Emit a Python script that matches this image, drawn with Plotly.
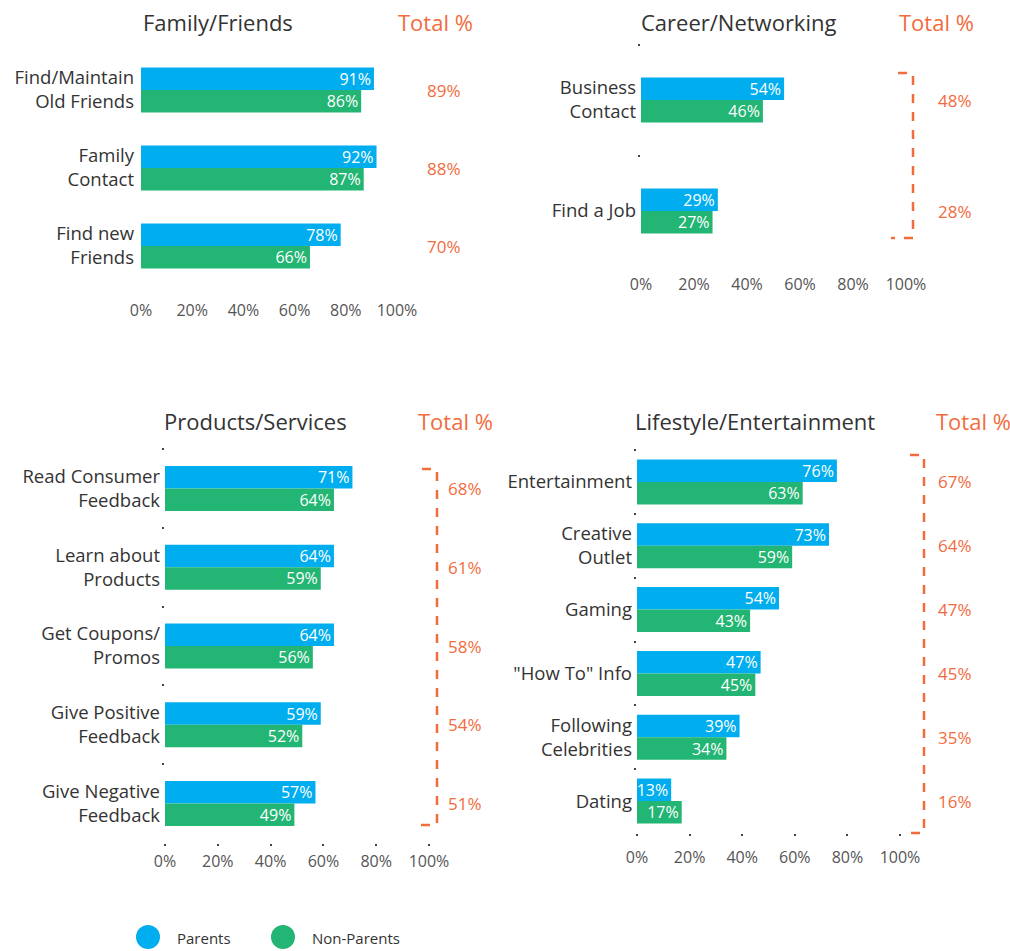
import plotly.graph_objects as go

W, H = 1010, 951
FONT = "Open Sans"
BLUE = "#00ADEE"
GREEN = "#22B573"
ORANGE = "#F26B3D"
DARK = "#333333"
GREY = "#555555"

series_names = ["Parents", "Non-Parents"]
series_colors = [BLUE, GREEN]
x_tick_vals = [0, 20, 40, 60, 80, 100]
x_tick_text = ["0%", "20%", "40%", "60%", "80%", "100%"]

# Family/Friends
fam_title = "Family/Friends"
fam_categories = ["Find/Maintain<br>Old Friends", "Family<br>Contact", "Find new<br>Friends"]
fam_parents = [91, 92, 78]
fam_nonparents = [86, 87, 66]
fam_total = [89, 88, 70]

# Career/Networking
car_title = "Career/Networking"
car_categories = ["Business<br>Contact", "Find a Job"]
car_parents = [54, 29]
car_nonparents = [46, 27]
car_total = [48, 28]

# Products/Services
prod_title = "Products/Services"
prod_categories = ["Read Consumer<br>Feedback", "Learn about<br>Products", "Get Coupons/<br>Promos",
                   "Give Positive<br>Feedback", "Give Negative<br>Feedback"]
prod_parents = [71, 64, 64, 59, 57]
prod_nonparents = [64, 59, 56, 52, 49]
prod_total = [68, 61, 58, 54, 51]

# Lifestyle/Entertainment
life_title = "Lifestyle/Entertainment"
life_categories = ["Entertainment", "Creative<br>Outlet", "Gaming", "\"How To\" Info",
                   "Following<br>Celebrities", "Dating"]
life_parents = [76, 73, 54, 47, 39, 13]
life_nonparents = [63, 59, 43, 45, 34, 17]
life_total = [67, 64, 47, 45, 35, 16]


def pxx(x):
    return x / W


def pxy(y):
    return 1 - y / H


panels = [
    dict(title=fam_title, cats=fam_categories, p=fam_parents, n=fam_nonparents, t=fam_total,
         x0=141, x1=397, y0=51, y1=285, tx=444, titx=141, tott=396, head_y=22,
         bracket=None, std=14, xticks=False, yticks=False),
    dict(title=car_title, cats=car_categories, p=car_parents, n=car_nonparents, t=car_total,
         x0=641, x1=906, y0=44.5, y1=266.5, tx=955, titx=639, tott=897, head_y=22,
         bracket=(898, 913, 891, 73, 238), std=6, xticks=False, yticks=True),
    dict(title=prod_title, cats=prod_categories, p=prod_parents, n=prod_nonparents, t=prod_total,
         x0=165, x1=429, y0=449, y1=843, tx=465, titx=162, tott=416, head_y=421,
         bracket=(422, 437, 416, 469, 825), std=2, xticks=True, yticks=True),
    dict(title=life_title, cats=life_categories, p=life_parents, n=life_nonparents, t=life_total,
         x0=637, x1=900, y0=450, y1=833, tx=955, titx=633, tott=934, head_y=421,
         bracket=(910, 924, 908, 455, 833), std=8, xticks=True, yticks=True),
]

fig = go.Figure()
annotations = []
shapes = []
BAR_PX = 22.5

for i, pn in enumerate(panels):
    k = "" if i == 0 else str(i + 1)
    xa, ya = "x" + k, "y" + k
    ncat = len(pn["cats"])
    spacing = (pn["y1"] - pn["y0"]) / ncat
    w = BAR_PX / spacing
    for j, (vals, name, col) in enumerate(zip([pn["p"], pn["n"]], series_names, series_colors)):
        fig.add_trace(go.Bar(
            x=vals, y=pn["cats"], orientation="h", name=name,
            marker=dict(color=col, line=dict(width=0)),
            width=w, offset=-w if j == 0 else 0,
            text=[f"{v}%" for v in vals], textposition="inside", insidetextanchor="end",
            constraintext="none", cliponaxis=False,
            textfont=dict(family=FONT, size=16, color="#FFFFFF"),
            xaxis=xa, yaxis=ya, showlegend=False, hoverinfo="skip",
        ))
    fig.layout["xaxis" + k] = dict(
        domain=[pxx(pn["x0"]), pxx(pn["x1"])], range=[0, 100], anchor=ya,
        tickvals=x_tick_vals, ticktext=x_tick_text, showgrid=False, zeroline=False,
        showline=False, ticks="outside" if pn["xticks"] else "", ticklen=2, tickwidth=2,
        tickcolor="#444444", ticklabelstandoff=pn["std"], automargin=False,
        tickfont=dict(family=FONT, size=16, color=GREY), fixedrange=True,
    )
    fig.layout["yaxis" + k] = dict(
        domain=[pxy(pn["y1"]), pxy(pn["y0"])], range=[ncat - 0.5, -0.5], anchor=xa,
        type="category", showgrid=False, zeroline=False, showline=False,
        ticks="outside" if pn["yticks"] else "", tickson="boundaries", ticklen=2, tickwidth=2,
        tickcolor="#444444",
        tickfont=dict(family=FONT, size=18.5, color=DARK),
        ticklabelstandoff=4 if pn["yticks"] else 6,
        automargin=False, fixedrange=True,
    )
    annotations.append(dict(text=pn["title"], xref="paper", yref="paper", x=pxx(pn["titx"]),
                            y=pxy(pn["head_y"]), xanchor="left", yanchor="middle", showarrow=False,
                            font=dict(family=FONT, size=22, color=DARK)))
    annotations.append(dict(text="Total %", xref="paper", yref="paper", x=pxx(pn["tott"]),
                            y=pxy(pn["head_y"]), xanchor="left", yanchor="middle",
                            showarrow=False, font=dict(family=FONT, size=22, color=ORANGE)))
    for c, tv in zip(pn["cats"], pn["t"]):
        annotations.append(dict(text=f"{tv}%", xref="paper", yref=ya, x=pxx(pn["tx"]), y=c,
                                xanchor="center", yanchor="middle", showarrow=False,
                                font=dict(family=FONT, size=17, color=ORANGE)))
    if pn["bracket"]:
        tx0, vx, bx0, yt, yb = pn["bracket"]
        path = (f"M {pxx(tx0)},{pxy(yt)} L {pxx(vx)},{pxy(yt)} L {pxx(vx)},{pxy(yb)} "
                f"L {pxx(bx0)},{pxy(yb)}")
        shapes.append(dict(type="path", xref="paper", yref="paper", path=path,
                           line=dict(color=ORANGE, width=2.5, dash="dash")))

# legend (circles + labels)
legend_items = [(148, 175), (283, 310)]
for (cx, tx), name, col in zip(legend_items, series_names, series_colors):
    shapes.append(dict(type="circle", xref="paper", yref="paper",
                       x0=pxx(cx - 12), x1=pxx(cx + 12), y0=pxy(937 + 12), y1=pxy(937 - 12),
                       fillcolor=col, line=dict(width=0)))
    annotations.append(dict(text=name, xref="paper", yref="paper", x=pxx(tx), y=pxy(938),
                            xanchor="left", yanchor="middle", showarrow=False,
                            font=dict(family=FONT, size=15, color=DARK)))

fig.update_layout(
    width=W, height=H, margin=dict(l=0, r=0, t=0, b=0),
    paper_bgcolor="white", plot_bgcolor="white",
    barmode="group", annotations=annotations, shapes=shapes, showlegend=False,
    font=dict(family=FONT),
)

fig.write_html("out.html", config={"displayModeBar": False})

# remove the browser's default page margin so the figure sits at the top-left corner
with open("out.html", "r", encoding="utf-8") as f:
    html = f.read()
html = html.replace("<head>", "<head><style>html,body{margin:0;padding:0;overflow:hidden;}</style>", 1)
with open("out.html", "w", encoding="utf-8") as f:
    f.write(html)
